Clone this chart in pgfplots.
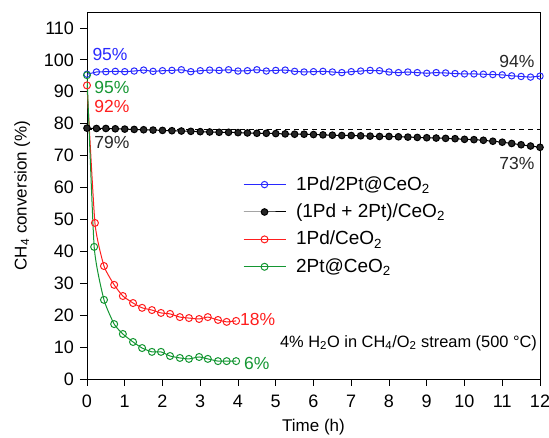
\documentclass[border=0pt]{standalone}
\usepackage{fontspec}
\setmainfont{Liberation Sans}
\usepackage{pgfplots}
\pgfplotsset{compat=1.18}
\definecolor{cblue}{RGB}{40,40,255}
\definecolor{cred}{RGB}{255,30,30}
\definecolor{cgreen}{RGB}{20,150,50}
\newcommand{\sub}[1]{\textsubscript{#1}}
\begin{document}
\fontsize{17.5}{20}\selectfont
\begin{tikzpicture}
\useasboundingbox (-87pt,-59pt) rectangle (462pt,379pt);
\begin{axis}[
  scale only axis, width=453pt, height=367pt,
  xmin=0, xmax=12, ymin=0, ymax=115,
  xtick={0,1,...,12}, ytick={0,10,...,110},
  tick align=outside, tick pos=left,
  major tick length=7pt,
  tick style={black, line width=0.8pt},
  axis line style={line width=0.8pt},
  /pgf/number format/assume math mode=true,
  ticklabel style={font=\fontsize{18}{20}\selectfont},
  xticklabel style={yshift=-3pt},
  label style={font=\fontsize{17}{20}\selectfont},
  xlabel={Time (h)},
  ylabel={CH\sub{4} conversion (\%)},
  xlabel style={yshift=0pt},
  ylabel style={yshift=2pt},
  legend style={at={(rel axis cs:0.344,0.558)}, anchor=north west, draw=none, fill=none,
    font=\fontsize{19}{21}\selectfont, row sep=7pt, column sep=8pt, inner sep=0pt},
  legend cell align=left,
  legend image code/.code={\draw[mark repeat=2,mark phase=2,#1] plot coordinates {(0pt,0pt) (21pt,0pt) (42pt,0pt)};},
]
\addplot[cblue, line width=1pt, mark=o, mark size=3.2pt, mark options={line width=1pt, fill=white}] coordinates {
(0,95.5) (0.25,96.2) (0.5,96.3) (0.75,96.4) (1,96.3) (1.25,96.5) (1.5,96.8) (1.75,96.4) (2,96.6) (2.25,96.7) (2.5,96.9) (2.75,96.3) (3,96.6) (3.25,96.8) (3.5,96.7) (3.75,96.9) (4,96.5) (4.25,96.6) (4.5,96.9) (4.75,96.5) (5,96.7) (5.25,96.8) (5.5,96.4) (5.75,96.2) (6,96.3) (6.25,96.4) (6.5,96.2) (6.75,96.0) (7,96.3) (7.25,96.5) (7.5,96.7) (7.75,96.6) (8,96.2) (8.25,96.0) (8.5,96.2) (8.75,96.0) (9,95.8) (9.25,96.0) (9.5,95.9) (9.75,95.7) (10,95.6) (10.25,95.6) (10.5,95.5) (10.75,95.4) (11,95.3) (11.25,95.0) (11.5,94.8) (11.75,94.6) (12,94.9)};
\addlegendentry{1Pd/2Pt@CeO\sub{2}}
\addplot[black, line width=1pt, mark=*, mark size=3.3pt, mark options={fill=black!85}] coordinates {
(0,78.6) (0.25,78.5) (0.5,78.5) (0.75,78.4) (1,78.3) (1.25,78.2) (1.5,78.1) (1.75,78.0) (2,77.9) (2.25,77.8) (2.5,77.7) (2.75,77.6) (3,77.5) (3.25,77.4) (3.5,77.3) (3.75,77.3) (4,77.2) (4.25,77.1) (4.5,77.0) (4.75,77.0) (5,76.9) (5.25,76.8) (5.5,76.7) (5.75,76.7) (6,76.6) (6.25,76.5) (6.5,76.4) (6.75,76.3) (7,76.3) (7.25,76.2) (7.5,76.1) (7.75,76.0) (8,76.0) (8.25,75.9) (8.5,75.8) (8.75,75.7) (9,75.6) (9.25,75.5) (9.5,75.4) (9.75,75.3) (10,75.1) (10.25,75.0) (10.5,74.8) (10.75,74.5) (11,74.2) (11.25,73.8) (11.5,73.4) (11.75,73.0) (12,72.6)};
\addlegendentry{(1Pd + 2Pt)/CeO\sub{2}}
\addplot[cred, line width=1pt, smooth, tension=0.3, mark=o, mark size=3.5pt, mark options={line width=1pt, fill=white}] coordinates {
(0,92) (0.21,48.9) (0.45,35.4) (0.72,29.5) (0.95,26) (1.22,23.8) (1.46,22.3) (1.72,21.6) (1.96,20.7) (2.2,20.4) (2.46,19.4) (2.7,19.1) (2.97,18.8) (3.2,19.4) (3.47,18.5) (3.7,17.9) (3.95,18.2)};
\addlegendentry{1Pd/CeO\sub{2}}
\addplot[cgreen, line width=1pt, smooth, tension=0.3, mark=o, mark size=3.5pt, mark options={line width=1pt, fill=white}] coordinates {
(0,95.2) (0.19,41.4) (0.45,24.8) (0.72,17.2) (0.95,14.1) (1.22,11.6) (1.46,9.7) (1.72,8.5) (1.96,8.5) (2.2,7.2) (2.46,6.6) (2.7,6.3) (2.97,6.9) (3.2,6.3) (3.47,5.6) (3.7,5.6) (3.95,5.6)};
\addlegendentry{2Pt@CeO\sub{2}}
\addplot[black, dashed, line width=0.8pt, forget plot, dash pattern=on 5pt off 4pt] coordinates {(0,78.3) (12,78.3)};
\node[cblue] at (axis cs:0.61,101.6) {95\%};
\node[cgreen] at (axis cs:0.66,91.2) {95\%};
\node[cred] at (axis cs:0.66,85.3) {92\%};
\node[black!85] at (axis cs:0.66,74) {79\%};
\node[black!85] at (axis cs:11.39,99.4) {94\%};
\node[black!85] at (axis cs:11.39,67.4) {73\%};
\node[cred, anchor=west, inner sep=0pt] at (axis cs:4.05,18.5) {18\%};
\node[cgreen, anchor=west, inner sep=0pt] at (axis cs:4.16,5) {6\%};
\node[anchor=west, inner sep=0pt, font=\fontsize{16.4}{18}\selectfont] at (axis cs:5.11,11.3) {4\% H\sub{2}O in CH\sub{4}/O\sub{2} stream (500 °C)};
\end{axis}
\end{tikzpicture}
\end{document}
